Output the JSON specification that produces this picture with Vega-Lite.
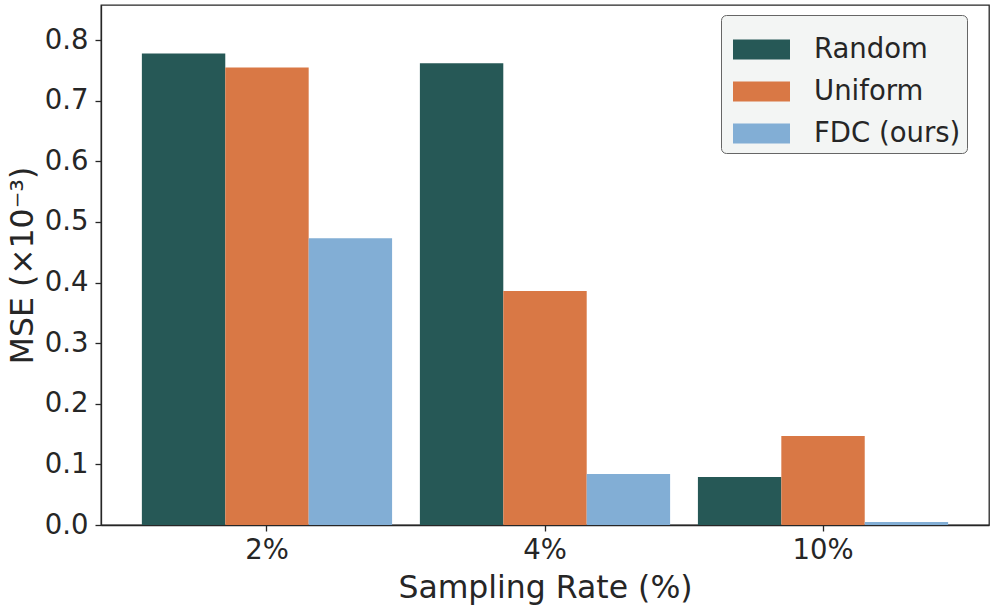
{
  "$schema": "https://vega.github.io/schema/vega-lite/v6.json",
  "width": 888,
  "height": 520,
  "autosize": "none",
  "padding": {"left": 101, "top": 5, "right": 7, "bottom": 85},
  "background": "white",
  "config": {
    "font": "DejaVu Sans",
    "view": {"stroke": "#262626", "strokeWidth": 1.3},
    "axis": {
      "grid": false,
      "domainColor": "#262626",
      "domainWidth": 1.3,
      "tickColor": "#262626",
      "tickWidth": 1.3,
      "tickSize": 6,
      "labelFont": "DejaVu Sans",
      "labelFontSize": 27.5,
      "labelColor": "#262626",
      "titleFont": "DejaVu Sans",
      "titleFontSize": 31.5,
      "titleFontWeight": "normal",
      "titleColor": "#262626"
    }
  },
  "data": {
    "values": [
      {"rate": "2%", "method": "Random", "mse": 0.778},
      {"rate": "2%", "method": "Uniform", "mse": 0.755},
      {"rate": "2%", "method": "FDC (ours)", "mse": 0.473},
      {"rate": "4%", "method": "Random", "mse": 0.762},
      {"rate": "4%", "method": "Uniform", "mse": 0.386},
      {"rate": "4%", "method": "FDC (ours)", "mse": 0.084},
      {"rate": "10%", "method": "Random", "mse": 0.079},
      {"rate": "10%", "method": "Uniform", "mse": 0.147},
      {"rate": "10%", "method": "FDC (ours)", "mse": 0.005}
    ]
  },
  "mark": {"type": "bar"},
  "encoding": {
    "x": {
      "field": "rate",
      "type": "nominal",
      "sort": ["2%", "4%", "10%"],
      "scale": {"paddingInner": 0.1, "paddingOuter": 0.147},
      "axis": {
        "title": "Sampling Rate (%)",
        "labelAngle": 0,
        "labelPadding": 5,
        "titleBaseline": "alphabetic",
        "titleY": 72
      }
    },
    "xOffset": {
      "field": "method",
      "type": "nominal",
      "sort": ["Random", "Uniform", "FDC (ours)"],
      "scale": {"paddingInner": 0, "paddingOuter": 0}
    },
    "y": {
      "field": "mse",
      "type": "quantitative",
      "scale": {"domain": [0, 0.858], "nice": false},
      "axis": {
        "title": "MSE (×10⁻³)",
        "values": [0, 0.1, 0.2, 0.3, 0.4, 0.5, 0.6, 0.7, 0.8],
        "format": ".1f",
        "labelPadding": 7,
        "titleX": -69,
        "titleY": 260,
        "titleAngle": -90,
        "titleAlign": "center",
        "titleBaseline": "alphabetic"
      }
    },
    "color": {
      "field": "method",
      "type": "nominal",
      "sort": ["Random", "Uniform", "FDC (ours)"],
      "scale": {
        "domain": ["Random", "Uniform", "FDC (ours)"],
        "range": ["#265856", "#d97845", "#82aed5"]
      },
      "legend": {
        "title": null,
        "orient": "none",
        "legendX": 620,
        "legendY": 10,
        "fillColor": "#f3f5f4",
        "strokeColor": "#666666",
        "cornerRadius": 5,
        "padding": 6,
        "symbolType": "M-1,-0.35H1V0.35H-1Z",
        "symbolSize": 3249,
        "symbolOffset": 6,
        "symbolStrokeWidth": 0,
        "symbolOpacity": 1,
        "labelFont": "DejaVu Sans",
        "labelFontSize": 27.5,
        "labelColor": "#262626",
        "labelOffset": 24,
        "rowPadding": 0
      }
    }
  }
}
